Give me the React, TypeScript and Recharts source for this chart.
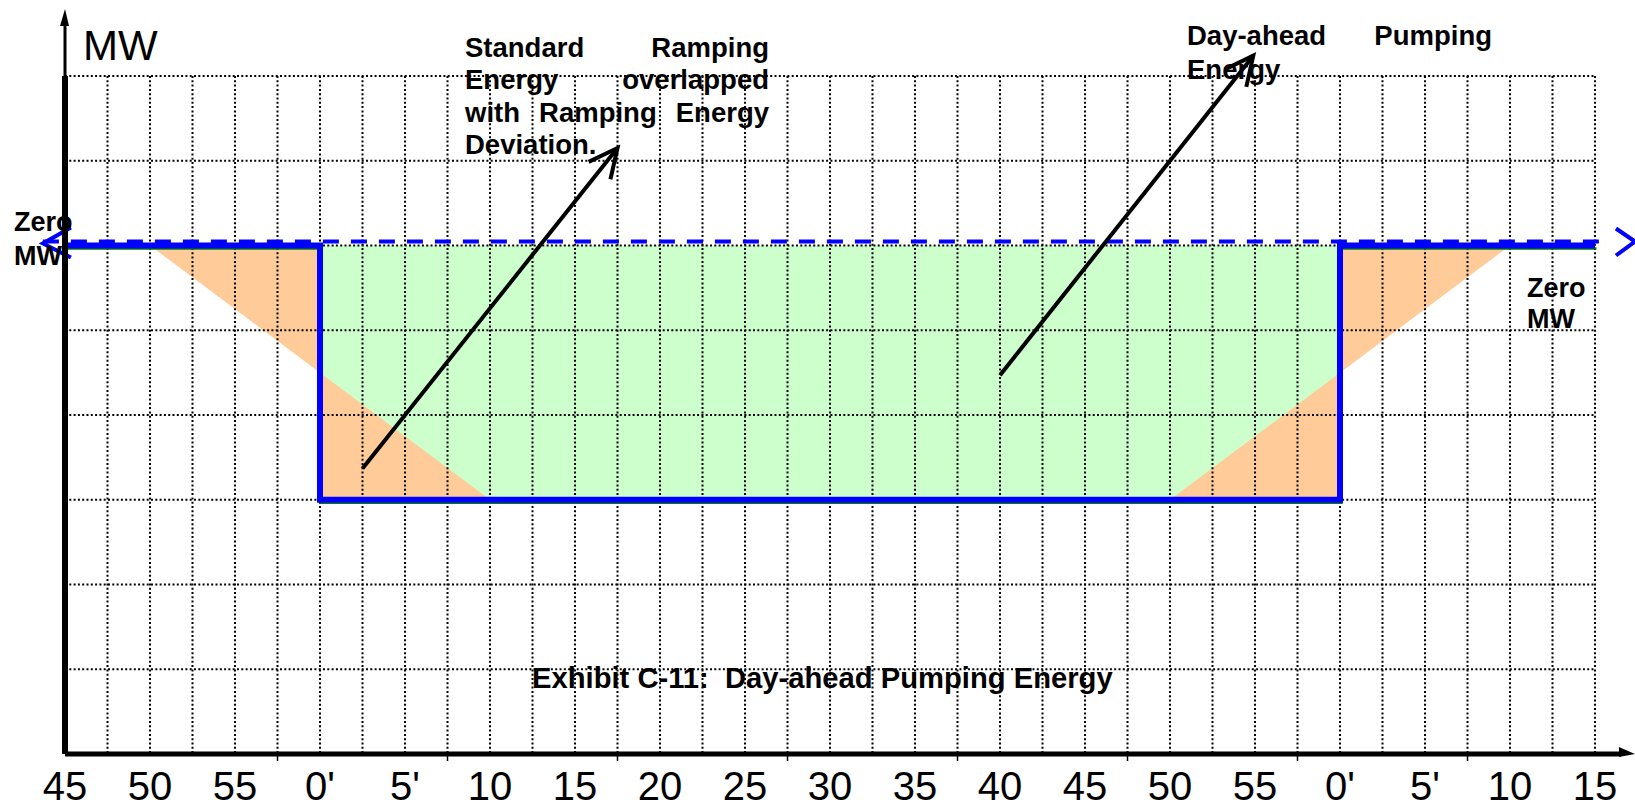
import { ComposedChart, Area, Line, XAxis, YAxis, CartesianGrid, ReferenceLine } from "recharts";

// time axis in minutes, 0 = the ":45" mark of the previous hour
const minutes = [0, 5, 15, 15, 25, 65, 75, 75, 85, 90];
// hourly day-ahead pumping schedule (step) and the standard 20-minute ramp
const scheduleMW = [0, 0, 0, -3, -3, -3, -3, 0, 0, 0];
const rampMW = [0, 0, -1.5, -1.5, -3, -3, -1.5, -1.5, 0, 0];

const tickMinutes = [0, 5, 10, 15, 20, 25, 30, 35, 40, 45, 50, 55, 60, 65, 70, 75, 80, 85, 90];
const tickLabels = ["45", "50", "55", "0'", "5'", "10", "15", "20", "25", "30", "35", "40", "45", "50", "55", "0'", "5'", "10", "15"];
const minorTickMinutes = [12.5, 22.5, 32.5, 42.5, 52.5, 62.5, 72.5, 82.5];
const mwTicks = [-6, -5, -4, -3, -2, -1, 0, 1, 2];

// annotation arrows (tail, head) in chart units
const rampArrow = [{ x: 17.5, y: -2.63 }, { x: 32.5, y: 1.15 }];
const dayAheadArrow = [{ x: 55, y: -1.53 }, { x: 69.9, y: 2.24 }];

const data = minutes.map((t, i) => ({
  t,
  schedule: scheduleMW[i],
  dayAhead: [scheduleMW[i], 0],
  deviation: [Math.min(scheduleMW[i], rampMW[i]), Math.max(scheduleMW[i], rampMW[i])],
}));

// grid every half label step
const gridMinutes = tickMinutes.flatMap((m, i) => (i === 0 ? [m] : [m - 2.5, m]));

const FONT = "'Liberation Sans', Arial, Helvetica, sans-serif";

const XTick = (props: any) => {
  const { x, y, payload } = props;
  const v = payload.value;
  const idx = tickMinutes.indexOf(v);
  return (
    <g>
      {minorTickMinutes.includes(v) && <line x1={x} y1={y} x2={x} y2={y + 7} stroke="#000" strokeWidth={1.5} />}
      {idx >= 0 && (
        <text x={x} y={y + 46} textAnchor="middle" fontFamily={FONT} fontSize={40} fill="#000">
          {tickLabels[idx]}
        </text>
      )}
    </g>
  );
};

// y ticks only feed the grid
const EmptyTick = () => <g />;

const ArrowShape = (p: any) => {
  const { x1, y1, x2, y2 } = p;
  const a = Math.atan2(y1 - y2, x1 - x2);
  const len = 32;
  const spread = 0.45;
  const pts = [
    [x2 + len * Math.cos(a - spread), y2 + len * Math.sin(a - spread)],
    [x2, y2],
    [x2 + len * Math.cos(a + spread), y2 + len * Math.sin(a + spread)],
  ]
    .map((q) => q.join(","))
    .join(" ");
  return (
    <g>
      <line x1={x1} y1={y1} x2={x2} y2={y2} stroke="#000" strokeWidth={4} />
      <polyline points={pts} fill="none" stroke="#000" strokeWidth={4} />
    </g>
  );
};

const YAxisTip = (p: any) => {
  const { x1, y1, x2, y2 } = p;
  return (
    <g>
      <line x1={x1} y1={y1} x2={x2} y2={y2 + 14} stroke="#000" strokeWidth={3} />
      <polygon points={`${x2},${y2} ${x2 - 5},${y2 + 17} ${x2 + 4},${y2 + 17}`} fill="#000" />
    </g>
  );
};

const XAxisTip = (p: any) => {
  const { x1, y1, x2 } = p;
  return (
    <g>
      <line x1={x1} y1={y1} x2={x2 - 14} y2={y1} stroke="#000" strokeWidth={5} />
      <polygon points={`${x2},${y1} ${x2 - 16},${y1 - 7} ${x2 - 16},${y1 + 3}`} fill="#000" />
    </g>
  );
};

const ZeroLine = (p: any) => {
  const { x1, y1, x2 } = p;
  const y = y1 - 4;
  return (
    <g>
      <line x1={x1} y1={y} x2={x2 - 33} y2={y} stroke="#0000FF" strokeWidth={4} strokeDasharray="16 12" />
      <polyline points={`${x1 + 28},${y - 14} ${x1},${y + 2} ${x1 + 28},${y + 16}`} fill="none" stroke="#0000FF" strokeWidth={4} />
      <polyline points={`${x2 - 19},${y - 13} ${x2},${y} ${x2 - 19},${y + 14}`} fill="none" stroke="#0000FF" strokeWidth={4} />
    </g>
  );
};

const para: React.CSSProperties = {
  position: "absolute",
  fontFamily: FONT,
  fontWeight: "bold",
  fontSize: 27.5,
  color: "#000",
  textAlign: "justify",
  textAlignLast: "justify",
  margin: 0,
};

export default function App() {
  return (
    <div style={{ position: "absolute", left: 0, top: 0, width: 1635, height: 809, background: "#fff" }}>
      <ComposedChart width={1635} height={809} data={data} margin={{ top: 76, right: 40, bottom: 0, left: 0 }}>
        <XAxis
          dataKey="t"
          type="number"
          domain={[0, 90]}
          ticks={gridMinutes}
          interval={0}
          tickLine={false}
          tickSize={0}
          tickMargin={0}
          height={55}
          axisLine={{ stroke: "#000", strokeWidth: 5 }}
          tick={<XTick />}
        />
        <YAxis
          type="number"
          domain={[-6, 2]}
          ticks={mwTicks}
          interval={0}
          tick={EmptyTick}
          tickLine={false}
          width={65}
          axisLine={{ stroke: "#000", strokeWidth: 6 }}
        />
        <Area dataKey="dayAhead" type="linear" fill="#CCFFCC" fillOpacity={1} stroke="none" isAnimationActive={false} />
        <Area dataKey="deviation" type="linear" fill="#FFCC99" fillOpacity={1} stroke="none" isAnimationActive={false} />
        <CartesianGrid stroke="#000" strokeWidth={2} strokeDasharray="2 2.3" zIndex={150} />
        <Line
          dataKey="schedule"
          type="linear"
          stroke="#008000"
          strokeWidth={2.5}
          transform="translate(1.5 3)"
          dot={false}
          activeDot={false}
          isAnimationActive={false}
        />
        <Line
          dataKey="schedule"
          type="linear"
          stroke="#0000FF"
          strokeWidth={6}
          strokeLinejoin="miter"
          dot={false}
          activeDot={false}
          isAnimationActive={false}
        />
        <ReferenceLine segment={[{ x: -1.3, y: 0 }, { x: 92.35, y: 0 }]} ifOverflow="visible" shape={ZeroLine} />
        <ReferenceLine segment={[{ x: 0, y: 2 }, { x: 0, y: 2.79 }]} ifOverflow="visible" shape={YAxisTip} />
        <ReferenceLine segment={[{ x: 90, y: -6 }, { x: 92.35, y: -6 }]} ifOverflow="visible" shape={XAxisTip} />
        <ReferenceLine segment={rampArrow} ifOverflow="visible" shape={ArrowShape} />
        <ReferenceLine segment={dayAheadArrow} ifOverflow="visible" shape={ArrowShape} />
      </ComposedChart>

      <svg width={1635} height={809} style={{ position: "absolute", left: 0, top: 0, pointerEvents: "none" }}>
        <text x={83} y={60} fontFamily={FONT} fontSize={42} fill="#000">MW</text>
        <g fontFamily={FONT} fontWeight="bold" fontSize={27} fill="#000">
          <text x={14} y={231}>Zero</text>
          <text x={14} y={265}>MW</text>
          <text x={1527} y={297}>Zero</text>
          <text x={1527} y={328}>MW</text>
          <text x={532} y={688} fontSize={29.2} style={{ whiteSpace: "pre" }}>
            {"Exhibit C-11:  Day-ahead Pumping Energy"}
          </text>
        </g>
      </svg>

      <div style={{ ...para, left: 465, top: 32, width: 304, lineHeight: "32.3px" }}>
        Standard Ramping<br />Energy overlapped<br />with Ramping Energy<br />Deviation.
      </div>
      <div style={{ ...para, left: 1187, top: 19, width: 305, lineHeight: "33.5px" }}>
        Day-ahead Pumping<br />Energy
      </div>
    </div>
  );
}
